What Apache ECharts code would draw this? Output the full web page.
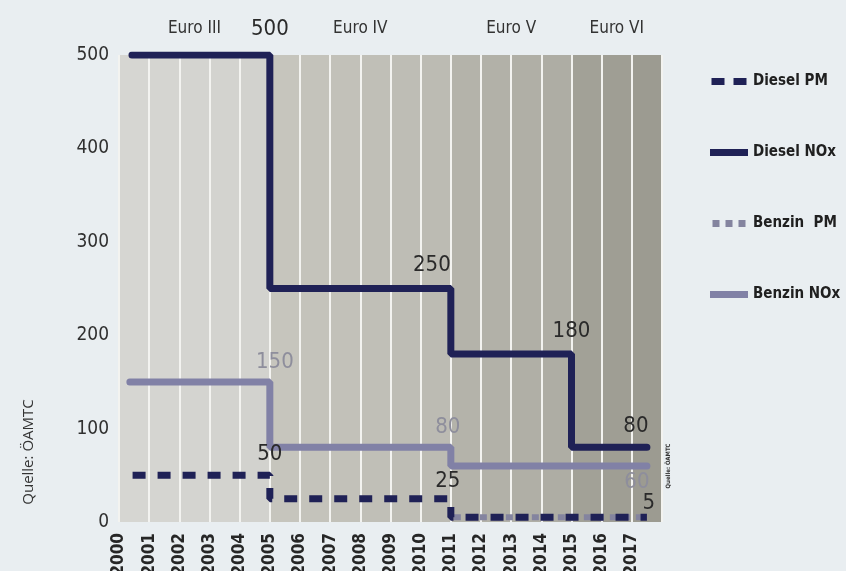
<!DOCTYPE html>
<html>
<head>
<meta charset="utf-8">
<script src="https://cdn.jsdelivr.net/npm/echarts@6/dist/echarts.min.js"></script>
<style>
html,body{margin:0;padding:0;background:#e9eef1;}
#c{width:846px;height:571px;}
</style>
</head>
<body>
<div id="c"></div>
<script>
// ---- data ----
const yearTicks = [2000,2001,2002,2003,2004,2005,2006,2007,2008,2009,2010,2011,2012,2013,2014,2015,2016,2017];
const yTicks = [0,100,200,300,400,500];
const euroNames = ['Euro III','Euro IV','Euro V','Euro VI'];
const euroStart = [2000,2005,2011,2015];
const euroEnd = [2005,2011,2015,2018];

const dieselNOxX = [2000.43, 2005, 2011, 2015, 2017.5];
const dieselNOxY = [500, 250, 180, 80, 80];
const benzinNOxX = [2000.36, 2005, 2011, 2017.5];
const benzinNOxY = [150, 80, 60, 60];
const dieselPMX = [2000.45, 2005, 2011, 2017.5];
const dieselPMY = [50, 25, 5, 5];
const benzinPMX = [2011.1, 2017.5];
const benzinPMY = [5, 5];

// ---- styles ----
const FONT = "'Liberation Sans Narrow','DejaVu Sans Condensed','Roboto Condensed',sans-serif";
const bandColors = ['#d6d6d2','#d5d5d1','#d4d4d0','#d3d3cf','#d2d2ce',
  '#c6c5bd','#c4c3bb','#c2c1b9','#c0bfb7','#bebdb5','#bcbbb3',
  '#b4b3aa','#b2b1a8','#b0afa6','#aeada4',
  '#a2a197','#9f9e94','#9c9b91'];
const navy = '#1f2156';
const lav = '#8181a6';
const lavPM = '#84849f';

function pts(xs, ys){ return xs.map((x,i)=>[x, ys[i]]); }
function segLabels(xs, ys, offsets, color){
  const out = [];
  for (let i=0;i<xs.length-1;i++){
    out.push({coord:[xs[i+1], ys[i]], value: ys[i],
      label:{offset: offsets[i], color: color}});
  }
  return out;
}
function mp(data, size){
  return {symbol:'circle', symbolSize:0, silent:true,
    label:{show:true, position:'inside', formatter: p=>String(p.value),
      fontFamily:FONT, fontSize:size||22},
    data};
}

const iconSolid = 'path://M0,0H38V7H0Z';
const iconDash = 'path://M0,0H13V7H0Z M22,0H35V7H22Z';
const iconDot = 'path://M0,0H7V7H0Z M13,0H20V7H13Z M26,0H33V7H26Z';

const chart = echarts.init(document.getElementById('c'), null, {renderer:'canvas'});
chart.setOption({
  backgroundColor:'#e9eef1',
  animation:false,
  grid:{left:119, top:55, width:543, bottom:49, containLabel:false, outerBoundsMode:'none'},
  xAxis:{type:'value', min:2000, max:2018, interval:1,
    axisLine:{show:false}, axisTick:{show:false},
    splitLine:{show:true, lineStyle:{color:'#f3f3f0', width:2}},
    splitArea:{show:true, areaStyle:{color:bandColors}},
    axisLabel:{rotate:90, margin:11, fontFamily:FONT, fontSize:17, fontWeight:'bold', color:'#262626',
      padding:[0,0,9,0],
      formatter: v => yearTicks.indexOf(v) >= 0 ? String(v) : ''}
  },
  yAxis:{type:'value', min:0, max:500, interval:100,
    axisLine:{show:false}, axisTick:{show:false}, splitLine:{show:false},
    axisLabel:{margin:10, fontFamily:FONT, fontSize:19, color:'#303030',
      formatter: v => yTicks.indexOf(v) >= 0 ? String(v) : ''}
  },
  legend:{orient:'vertical', left:705, top:69, itemWidth:38, itemHeight:7, itemGap:56,
    textStyle:{fontFamily:FONT, fontSize:15, fontWeight:'bold', color:'#202020'},
    data:[
      {name:'Diesel PM', icon:iconDash},
      {name:'Diesel NOx', icon:iconSolid},
      {name:'Benzin  PM', icon:iconDot},
      {name:'Benzin NOx', icon:iconSolid}
    ]},
  series:[
    {name:'Benzin NOx', type:'line', step:'end', symbol:'none', data:pts(benzinNOxX, benzinNOxY),
      lineStyle:{color:lav, width:7, cap:'round'}, itemStyle:{color:lav},
      markPoint: mp(segLabels(benzinNOxX, benzinNOxY, [[5,-20],[-3,-20],[-10,16]], '#8e8e9c'))},
    {name:'Benzin  PM', type:'line', step:'end', symbol:'none', data:pts(benzinPMX, benzinPMY),
      lineStyle:{color:lavPM, width:6, type:[7,6]}, itemStyle:{color:lavPM}},
    {name:'Diesel NOx', type:'line', step:'end', symbol:'none', data:pts(dieselNOxX, dieselNOxY),
      lineStyle:{color:navy, width:7, cap:'round'}, itemStyle:{color:navy},
      markPoint: mp(segLabels(dieselNOxX, dieselNOxY, [[0,-26],[-19,-23],[0,-23],[-11,-21]], '#2a2a2a')),
      markArea:{silent:true, itemStyle:{color:'rgba(0,0,0,0)'},
        label:{show:true, position:'top', distance:18, fontFamily:FONT, fontSize:17, color:'#333'},
        data: euroNames.map((n,i)=>[{name:n, xAxis:euroStart[i]},{xAxis:euroEnd[i]}])}},
    {name:'Diesel PM', type:'line', step:'end', symbol:'none', data:pts(dieselPMX, dieselPMY),
      lineStyle:{color:navy, width:7, type:[13,12]}, itemStyle:{color:navy},
      markPoint: mp(segLabels(dieselPMX, dieselPMY, [[0,-21],[-3,-17],[2,-14]], '#2a2a2a'))}
  ],
  graphic:[
    {type:'text', x:29, y:452, rotation:Math.PI/2,
      style:{text:'Quelle: ÖAMTC', font:"15px 'Open Sans', sans-serif", fill:'#333', align:'center', verticalAlign:'middle'}},
    {type:'text', x:668, y:466, rotation:Math.PI/2,
      style:{text:'Quelle: ÖAMTC', font:"bold 6px "+FONT, fill:'#333', align:'center', verticalAlign:'middle'}}
  ]
});
</script>
</body>
</html>
